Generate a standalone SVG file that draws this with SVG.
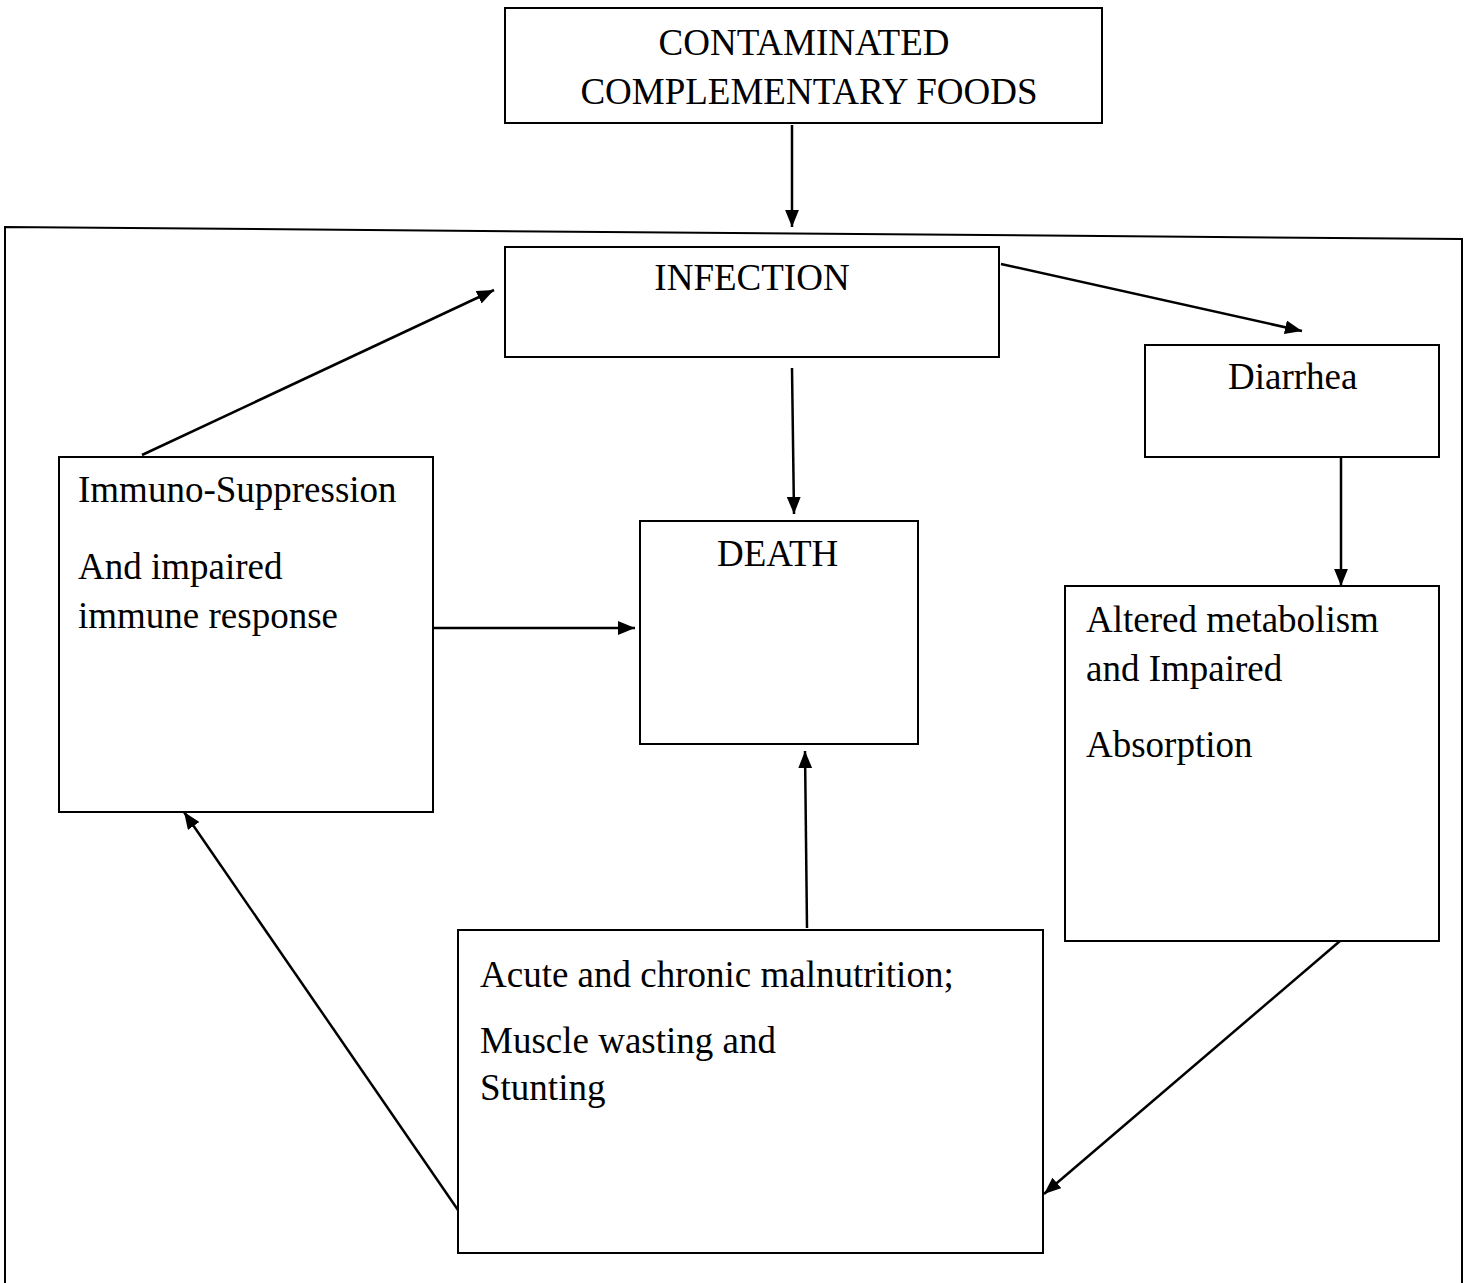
<svg xmlns="http://www.w3.org/2000/svg" width="1469" height="1283" viewBox="0 0 1469 1283">
<defs>
<style>
.box{fill:#fff;stroke:#000;stroke-width:2}
.t{font-family:"Liberation Serif","Times New Roman",serif;font-size:37px;fill:#000}
.c{stroke:#000;stroke-width:2.5;fill:none;marker-end:url(#ah)}
</style>
<marker id="ah" viewBox="0 0 16 13" refX="16" refY="6.5" markerWidth="17" markerHeight="14" orient="auto" markerUnits="userSpaceOnUse">
<path d="M0,0 L16,6.5 L0,13 Z" fill="#000"/>
</marker>
</defs>
<rect width="1469" height="1283" fill="#fff"/>
<g id="frame">
<path d="M5,1283 L5,227 L1462,239 L1462,1283" fill="none" stroke="#000" stroke-width="2"/>
</g>
<g id="n-contaminated">
<rect class="box" x="505" y="8" width="597" height="115"/>
<text class="t" x="804" y="55" text-anchor="middle">CONTAMINATED</text>
<text class="t" x="809" y="104" text-anchor="middle">COMPLEMENTARY FOODS</text>
</g>
<g id="n-infection">
<rect class="box" x="505" y="247" width="494" height="110"/>
<text class="t" x="752" y="290" text-anchor="middle">INFECTION</text>
</g>
<g id="n-diarrhea">
<rect class="box" x="1145" y="345" width="294" height="112"/>
<text class="t" x="1228" y="389">Diarrhea</text>
</g>
<g id="n-immuno">
<rect class="box" x="59" y="457" width="374" height="355"/>
<text class="t" x="78" y="502">Immuno-Suppression</text>
<text class="t" x="78" y="579">And impaired</text>
<text class="t" x="78" y="628">immune response</text>
</g>
<g id="n-death">
<rect class="box" x="640" y="521" width="278" height="223"/>
<text class="t" x="717" y="566">DEATH</text>
</g>
<g id="n-altered">
<rect class="box" x="1065" y="586" width="374" height="355"/>
<text class="t" x="1086" y="632">Altered metabolism</text>
<text class="t" x="1086" y="681">and Impaired</text>
<text class="t" x="1086" y="757">Absorption</text>
</g>
<g id="n-malnutrition">
<rect class="box" x="458" y="930" width="585" height="323"/>
<text class="t" x="480" y="987">Acute and chronic malnutrition;</text>
<text class="t" x="480" y="1053">Muscle wasting and</text>
<text class="t" x="480" y="1100">Stunting</text>
</g>
<g id="connectors">
<path class="c" d="M792,125 L792,227"/>
<path class="c" d="M142,455 L494,290"/>
<path class="c" d="M1001,264 L1302,331"/>
<path class="c" d="M792,368 L794,514"/>
<path class="c" d="M1341,457 L1341,586"/>
<path class="c" d="M433,628 L635,628"/>
<path class="c" d="M807,928 L805,751"/>
<path class="c" d="M458,1210 L184,812"/>
<path class="c" d="M1340,941 L1044,1194"/>
</g>
</svg>
